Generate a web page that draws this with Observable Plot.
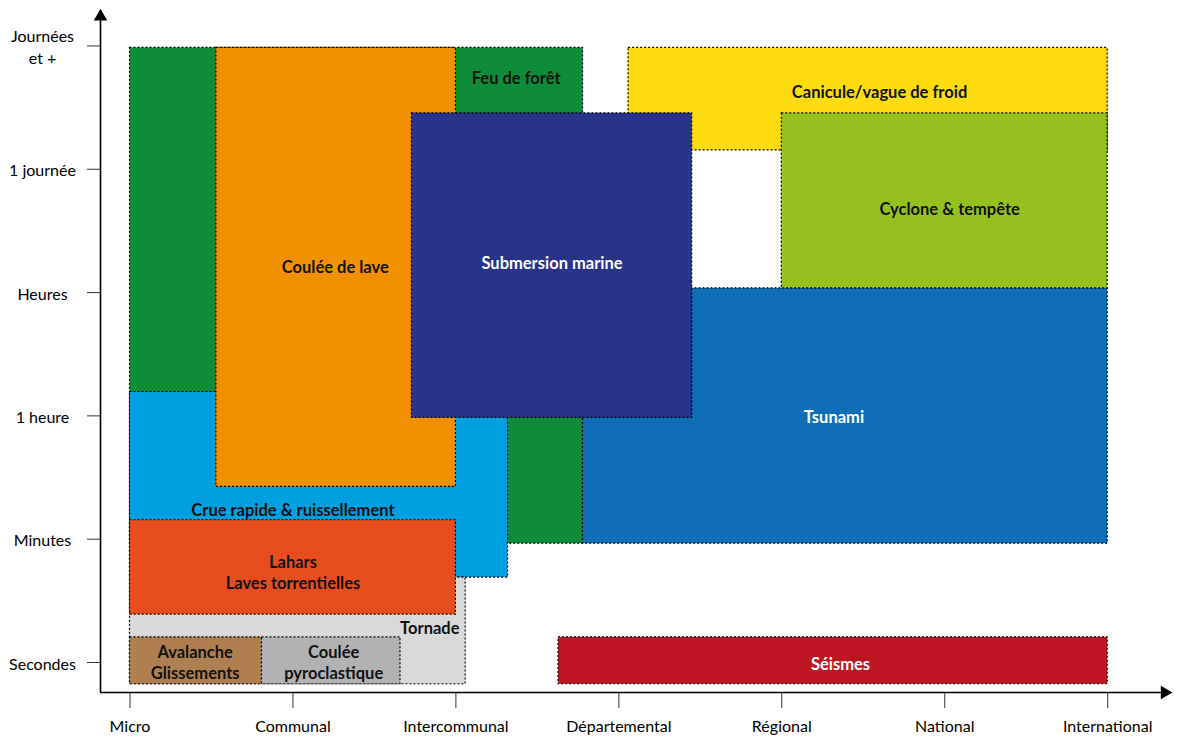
<!DOCTYPE html>
<html>
<head>
<meta charset="utf-8">
<script src="https://cdn.jsdelivr.net/npm/d3@7"></script>
<script src="https://cdn.jsdelivr.net/npm/@observablehq/plot@0.6"></script>
<style>
  html, body { margin: 0; padding: 0; background: #fff; }
  #chart { width: 1178px; height: 738px; }
</style>
</head>
<body>
<div id="chart"></div>
<script>
// Spatial extent ticks (x) and duration ticks (y)
const xLabels = ["Micro", "Communal", "Intercommunal", "Départemental", "Régional", "National", "International"];
const yLabels = ["Secondes", "Minutes", "1 heure", "Heures", "1 journée", "Journées\net +"];

// Hazards, in drawing order (later ones drawn on top)
const hazards = ["Feu de forêt", "Crue rapide & ruissellement", "Coulée de lave", "Tsunami", "Canicule/vague de froid",
  "Cyclone & tempête", "Submersion marine", "Tornade", "Lahars", "Avalanche", "Coulée pyroclastique", "Séismes"];
const spatialStart  = [0.00, 0.00, 0.53, 2.78, 3.06, 4.00, 1.73, 0.00, 0.00, 0.00, 0.81, 2.63];
const spatialEnd    = [2.78, 2.32, 2.00, 6.00, 6.00, 6.00, 3.45, 2.06, 2.00, 0.81, 1.66, 6.00];
const durationStart = [0.98, 0.705, 1.44, 0.98, 4.17, 3.05, 2.00, -0.16, 0.405, -0.16, -0.16, -0.16];
const durationEnd   = [5.00, 2.21, 5.00, 3.05, 5.00, 4.47, 4.47, 0.705, 1.17, 0.22, 0.22, 0.22];
const hazardColors  = ["#0f8c37", "#009fe0", "#f29100", "#0f6eb5", "#ffdc0f", "#95c11f", "#28338a",
  "#d9d9d9", "#e84e1d", "#b07f50", "#b2b2b2", "#be1622"];

// Labels
const labelText = ["Feu de forêt", "Crue rapide & ruissellement", "Coulée de lave", "Submersion marine", "Tsunami",
  "Canicule/vague de froid", "Cyclone & tempête", "Tornade", "Lahars\nLaves torrentielles", "Avalanche\nGlissements",
  "Coulée\npyroclastique", "Séismes"];
const labelX = [2.37, 1.00, 1.26, 2.59, 4.32, 4.60, 5.03, 1.84, 1.00, 0.40, 1.25, 4.36];
const labelY = [4.76, 1.26, 3.23, 3.26, 2.01, 4.65, 3.70, 0.30, 0.75, 0.02, 0.02, 0.01];
const whiteLabels = ["Submersion marine", "Tsunami", "Séismes"];

// Axis origins / arrow tips (data units)
const axisX0 = -0.181, axisY0 = -0.227, arrowX = 6.35, arrowY = 5.255;

const rects = hazards.map((h, i) => ({hazard: h, x1: spatialStart[i], x2: spatialEnd[i], y1: durationStart[i], y2: durationEnd[i]}));
const labels = labelText.map((t, i) => ({text: t, x: labelX[i], y: labelY[i], white: whiteLabels.includes(t)}));

const chart = Plot.plot({
  width: 1178,
  height: 738,
  marginLeft: 100,
  marginRight: 4,
  marginTop: 8,
  marginBottom: 46,
  style: {fontFamily: "Lato, 'Open Sans', sans-serif", fontSize: "16px", background: "#fff"},
  x: {domain: [axisX0, 6.41]},
  y: {domain: [axisY0, 5.32]},
  color: {domain: hazards, range: hazardColors},
  marks: [
    Plot.rect(rects, {x1: "x1", x2: "x2", y1: "y1", y2: "y2", fill: "hazard",
      stroke: "#000", strokeWidth: 1.2, strokeDasharray: "2,2"}),
    Plot.text(labels.filter(d => !d.white), {x: "x", y: "y", text: "text", fill: "#111",
      fontWeight: "bold", fontSize: 16.5, lineHeight: 1.22}),
    Plot.text(labels.filter(d => d.white), {x: "x", y: "y", text: "text", fill: "#fff",
      fontWeight: "bold", fontSize: 16.5, lineHeight: 1.22}),
    Plot.axisX({ticks: d3.range(xLabels.length), tickFormat: i => xLabels[i], anchor: "bottom",
      tickSize: 16, tickPadding: 12, label: null, stroke: "#333", fontSize: 16}),
    Plot.axisY({ticks: d3.range(yLabels.length), tickFormat: i => yLabels[i], anchor: "left",
      tickSize: 13, tickPadding: 45, textAnchor: "middle", label: null, stroke: "#333", fontSize: 16, lineHeight: 1.4, dy: -2}),
    Plot.ruleX([axisX0], {y1: axisY0, y2: arrowY, stroke: "#000", strokeWidth: 1.6}),
    Plot.ruleY([axisY0], {x1: axisX0, x2: arrowX, stroke: "#000", strokeWidth: 1.6}),
    Plot.dot([{x: axisX0, y: arrowY}], {x: "x", y: "y", symbol: "triangle", r: 5, fill: "#000"}),
    Plot.dot([{x: arrowX, y: axisY0}], {x: "x", y: "y", symbol: "triangle", r: 5, fill: "#000", rotate: 90})
  ]
});
document.getElementById("chart").appendChild(chart);
</script>
</body>
</html>
